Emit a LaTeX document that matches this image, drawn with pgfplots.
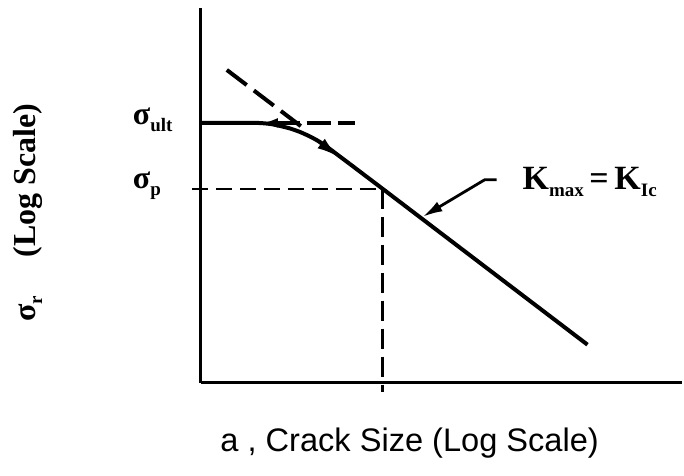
\documentclass[border=0pt]{standalone}
\usepackage{pgfplots}
\pgfplotsset{compat=1.18}
\usetikzlibrary{arrows.meta}
\usepackage{fontspec}
\setmainfont{Liberation Serif}
\newfontfamily\arial{Liberation Sans}

% subscript in text font
\newcommand{\sub}[1]{\raisebox{-0.45ex}{\fontsize{9.5}{9.5}\selectfont #1}}

\begin{document}
\begin{tikzpicture}
\begin{axis}[
    scale only axis,
    width=241pt, height=187.5pt,
    xmin=201, xmax=683,
    ymin=93, ymax=468,
    axis x line=bottom,
    axis y line=left,
    axis line style={-, line width=1.6pt},
    xtick=\empty, ytick=\empty,
    clip=false,
]
% page extent (684 x 476 px)
\path (axis cs:0,0) rectangle (axis cs:684,476);

% residual strength curve
\addplot[black, line width=2pt, smooth, tension=0.4] coordinates {
    (202,353)(255,353)(270,352)(280,350)(290,347.5)(300,344)(310,339.5)
    (320,334)(330,327)(340,319.5)(350,312)
};
\addplot[black, line width=2pt] coordinates {(350,312)(383,287)(588,131)};
% arrow on curve
\addplot[black, line width=1.6pt, -{Latex[length=11pt,width=6pt]}] coordinates {(316,336.5)(339,319)};

% asymptotes
\addplot[black, line width=2pt, dash pattern=on 12.5pt off 4.5pt] coordinates {(227,406)(308,344.5)};
\addplot[black, line width=2pt, dash pattern=on 12pt off 3.5pt,
    {Latex[length=10pt,width=4.5pt]}-] coordinates {(258,353)(355,353)};

% sigma_p construction lines
\addplot[black, line width=1.2pt, dash pattern=on 8pt off 4pt] coordinates {(192,287)(383,287)};
\addplot[black, line width=1.2pt, dash pattern=on 10pt off 4pt] coordinates {(383,287)(383,84)};

% K_max = K_Ic pointer
\addplot[black, line width=1.4pt, -{Latex[length=10pt,width=5.5pt]}] coordinates {(497,296)(485,296)(423,259)};

% labels
\node[anchor=west, font=\fontsize{16}{16}\selectfont\bfseries] at (axis cs:126,356) {σ\sub{ult}};
\node[anchor=west, font=\fontsize{16}{16}\selectfont\bfseries] at (axis cs:126,290) {σ\sub{p}};
\node[anchor=west, font=\fontsize{17}{17}\selectfont\bfseries] at (axis cs:516,294) {K\sub{max}\,=\,K\sub{Ic}};
\node[rotate=90, font=\fontsize{16}{16}\selectfont\bfseries] at (axis cs:28,263) {σ\sub{r}\hspace{1.2em}(Log Scale)};
\node[font=\arial\fontsize{16.3}{16.3}\selectfont] at (axis cs:410,33) {a , Crack Size (Log Scale)};
\end{axis}
\end{tikzpicture}
\end{document}
